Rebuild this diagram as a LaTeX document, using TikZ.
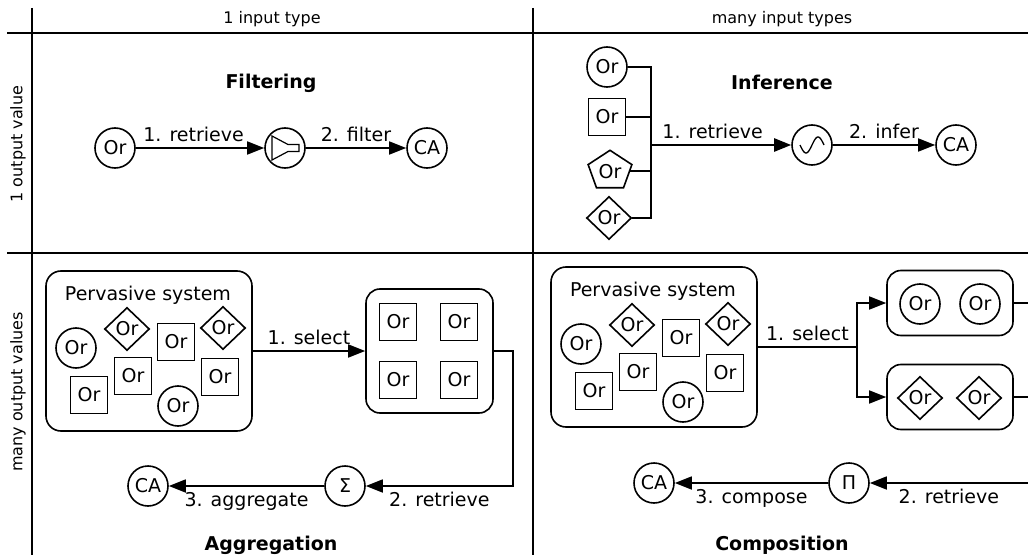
\documentclass[tikz,border=0pt]{standalone}
\usepackage{fontspec}
\setmainfont{DejaVu Sans}
\usetikzlibrary{arrows.meta,shapes.geometric,positioning}

\tikzset{
  orc/.style={circle, draw, minimum size=40pt, inner sep=0pt},
  ors/.style={rectangle, draw, minimum size=37pt, inner sep=0pt},
  ord/.style={diamond, draw, minimum width=45pt, minimum height=43pt, inner sep=0pt},
  orp/.style={regular polygon, regular polygon sides=5, draw, minimum size=46pt, inner sep=0pt},
  opbox/.style={circle, draw, minimum size=40pt, inner sep=0pt},
  sysbox/.style={draw, rounded corners=15pt},
  arr/.style={-{Triangle[length=17pt,width=13pt]}},
  lbl/.style={inner sep=5.5pt},
  title/.style={font=\fontsize{19}{22}\selectfont\bfseries},
  header/.style={font=\fontsize{16}{19}\selectfont},
}

\begin{document}
\begin{tikzpicture}[x=1pt, y=-1pt, line width=1.6pt, font=\fontsize{19}{22}\selectfont]
\useasboundingbox (0,0) rectangle (1028,559);
\clip (0,0) rectangle (1028,559);

% table lines
\draw (7,33) -- (1028,33);
\draw (7,253) -- (1028,253);
\draw (32,8) -- (32,555);
\draw (533,8) -- (533,555);

\node[header] (col1) at (272,19) {1 input type};
\node[header] (col2) at (782,19) {many input types};
\node[header, rotate=90] (row1) at (18,144) {1 output value};
\node[header, rotate=90] (row2) at (18,392) {many output values};

% filtering
\node[title] (filtering) at (271,83) {Filtering};
\node[orc] (f-or) at (115,148) {Or};
\node[opbox] (filter) at (285,148) {};
\draw[line width=1.2pt] (filter.center) ++(-13,-12) -- ++(16,8.5) -- ++(11,0) -- ++(0,7) -- ++(-11,0) -- ++(-16,8.5) -- cycle;
\node[orc] (f-ca) at (427,148) {CA};
\draw[arr] (f-or) -- node[lbl, above, pos=0.45] (f-l1) {1. retrieve} (filter);
\draw[arr] (filter) -- node[lbl, above] (f-l2) {2. filter} (f-ca);

% inference
\node[title] (inference) at (782,82) {Inference};
\node[orc] (i-or1) at (607,67) {Or};
\node[ors] (i-or2) at (607,117) {Or};
\node[orp, yscale=0.9] (i-or3) at (610,171) {};
\node (i-or3-text) at (610,172) {Or};
\node[ord] (i-or4) at (609,218) {Or};
\coordinate (bus) at (651,145);
\foreach \i in {1,...,4}
  \draw (i-or\i.east) -| (bus);
\node[opbox] (infer) at (812,145) {};
\draw[line width=1.3pt, shift={(infer.center)}] plot[domain=-12:12, samples=40, smooth] (\x, {-8*sin(15*\x)});
\node[orc] (i-ca) at (956,145) {CA};
\draw[arr, line width=2.4pt] (bus) -- node[lbl, above, pos=0.44] (i-l1) {1. retrieve} (infer);
\draw[arr] (infer) -- node[lbl, above] (i-l2) {2. infer} (i-ca);

% pervasive systems (aggregation, composition)
\foreach \dx/\dy/\n in {0/0/a, 505/-4/c} {
  \begin{scope}[shift={(\dx,\dy)}]
    \node[sysbox, minimum width=206pt, minimum height=160pt] (ps-\n) at (149,351) {};
    \node (ps-\n-title) at (148,295) {Pervasive system};
    \node[orc] (ps-\n-1) at (76,348) {Or};
    \node[ord] (ps-\n-2) at (127,329) {Or};
    \node[ors] (ps-\n-3) at (176,342) {Or};
    \node[ord] (ps-\n-4) at (223,328) {Or};
    \node[ors] (ps-\n-5) at (133,376) {Or};
    \node[ors] (ps-\n-6) at (89,395) {Or};
    \node[orc] (ps-\n-7) at (178,406) {Or};
    \node[ors] (ps-\n-8) at (220,377) {Or};
  \end{scope}
}

% aggregation
\node[sysbox, rounded corners=14pt, minimum width=127pt, minimum height=124pt] (a-sel) at (429.5,351) {};
\foreach \x/\y [count=\k] in {398/322, 459/322, 398/380, 459/380}
  \node[ors] (a-sel-\k) at (\x,\y) {Or};
\draw[arr] (ps-a) -- node[lbl, above] (a-l1) {1. select} (a-sel);
\node[opbox] (sigma) at (345,486) {Σ};
\node[orc] (a-ca) at (148,486) {CA};
\coordinate (a-turn) at (513,351);
\draw[arr] (a-sel.east) -- (a-turn) |- node[lbl, below, pos=0.75] (a-l2) {2. retrieve} (sigma);
\draw[arr] (sigma) -- node[lbl, below] (a-l3) {3. aggregate} (a-ca);
\node[title] (aggregation) at (271,545) {Aggregation};

% composition
\coordinate (fork) at (857,347);
\coordinate (cut) at (1028,0);
\node[sysbox, rounded corners=14pt, minimum width=126pt, minimum height=65pt] (c-sel1) at (950,303) {};
\node[sysbox, rounded corners=14pt, minimum width=126pt, minimum height=65pt] (c-sel2) at (950,397) {};
\node[orc] (c-or1) at (920,304) {Or};
\node[orc] (c-or2) at (980,304) {Or};
\node[ord] (c-or3) at (920,398) {Or};
\node[ord] (c-or4) at (979,398) {Or};
\draw (ps-c) -- node[lbl, above] (c-l1) {1. select} (fork);
\draw[arr] (fork) |- (c-sel1);
\draw[arr] (fork) |- (c-sel2);
\draw (c-sel1.east) -- (c-sel1.east -| cut);
\draw (c-sel2.east) -- (c-sel2.east -| cut);
\node[opbox] (pi) at (849,483) {Π};
\node[orc] (c-ca) at (654,483) {CA};
\draw[arr] (pi -| cut) -- node[lbl, below] (c-l2) {2. retrieve} (pi);
\draw[arr] (pi) -- node[lbl, below] (c-l3) {3. compose} (c-ca);
\node[title] (composition) at (782,545) {Composition};
\end{tikzpicture}
\end{document}
